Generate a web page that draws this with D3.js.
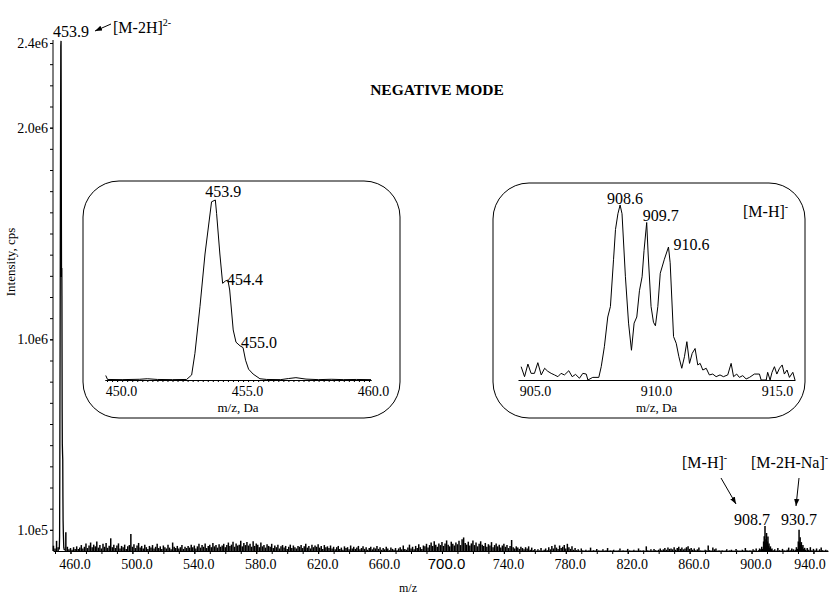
<!DOCTYPE html>
<html>
<head>
<meta charset="utf-8">
<script src="https://cdn.jsdelivr.net/npm/d3@7"></script>
<style>
  body { margin: 0; background: #fff; }
  svg { font-family: "Liberation Serif", "Times New Roman", serif; }
  svg text { font-family: "Liberation Serif", "Times New Roman", serif; fill: #000; }
  svg text.sans { font-family: "Liberation Sans", Arial, sans-serif; }
</style>
</head>
<body>
<svg id="chart" width="829" height="597"></svg>
<script>
// ---------------- data ----------------
// Background of the full scan, one value per 1 Da starting at m/z 449 (kcps)
const noiseStartMz = 449;
const noiseKcps = [
  25, 12, 48, 18, 0, 0, 0, 0, 88, 20,
  8, 14, 6, 18, 10, 22, 9, 16, 28, 12,
  20, 35, 14, 26, 40, 18, 30, 22, 45, 16,
  28, 12, 34, 20, 38, 15, 25, 60, 18, 30,
  14, 26, 36, 12, 24, 18, 30, 10, 22, 28,
  80, 20, 32, 14, 26, 38, 16, 24, 12, 30,
  18, 10, 24, 16, 28, 12, 20, 34, 14, 22,
  10, 26, 18, 12, 30, 16, 8, 40, 20, 14,
  24, 12, 18, 28, 10, 20, 14, 24, 16, 30,
  18, 26, 12, 22, 34, 16, 28, 20, 36, 14,
  24, 30, 18, 38, 22, 28, 16, 32, 20, 26,
  34, 18, 28, 40, 24, 30, 44, 20, 36, 26,
  30, 48, 22, 38, 28, 42, 26, 34, 20, 46,
  24, 36, 30, 18, 40, 22, 28, 16, 32, 24,
  20, 34, 14, 26, 18, 30, 12, 22, 28, 16,
  24, 10, 20, 30, 14, 26, 18, 12, 24, 20,
  28, 14, 22, 34, 16, 24, 12, 30, 18, 26,
  20, 32, 16, 24, 10, 28, 18, 22, 14, 26,
  12, 20, 8, 18, 24, 10, 16, 6, 22, 14,
  18, 8, 26, 12, 20, 10, 16, 24, 8, 14,
  22, 10, 18, 6, 14, 20, 8, 16, 12, 24,
  10, 18, 6, 14, 8, 20, 12, 4, 16, 10,
  6, 14, 4, 12, 18, 8, 26, 10, 6, 16,
  30, 12, 20, 8, 24, 14, 32, 18, 10, 26,
  22, 34, 16, 28, 40, 24, 46, 30, 20, 36,
  28, 42, 24, 36, 50, 30, 22, 44, 34, 26,
  40, 32, 48, 28, 56, 64, 38, 30, 44, 26,
  36, 50, 28, 40, 22, 34, 46, 30, 24, 38,
  20, 32, 26, 42, 18, 28, 36, 22, 30, 16,
  26, 34, 20, 28, 14, 24, 52, 18, 12, 22,
  16, 10, 20, 14, 8, 18, 12, 22, 6, 16,
  4, 10, 2, 8, 3, 14, 2, 6, 12, 4,
  18, 8, 24, 12, 30, 16, 10, 26, 14, 20,
  28, 12, 34, 18, 10, 22, 6, 14, 4, 8,
  2, 12, 3, 2, 6, 2, 3, 16, 2, 4,
  2, 10, 3, 2, 2, 8, 2, 3, 14, 2,
  3, 2, 6, 2, 2, 3, 12, 2, 4, 2,
  2, 10, 3, 2, 2, 6, 2, 2, 12, 3,
  2, 4, 2, 22, 3, 2, 8, 2, 10, 4,
  2, 6, 12, 3, 8, 14, 6, 16, 10, 12,
  8, 18, 6, 14, 20, 10, 16, 8, 12, 18,
  22, 10, 14, 6, 12, 4, 8, 16, 3, 2,
  2, 6, 3, 26, 4, 2, 16, 8, 12, 2,
  3, 2, 4, 2, 2, 8, 2, 3, 6, 2,
  2, 10, 3, 2, 2, 6, 2, 14, 3, 2,
  4, 2, 8, 3, 12, 0, 0, 0, 0, 0,
  0, 0, 0, 0, 0, 3, 8, 2, 14, 4,
  2, 10, 3, 2, 6, 16, 4, 12, 8, 0,
  0, 0, 0, 0, 0, 0, 0, 14, 6, 18,
  4, 10, 3, 12, 2, 8, 16, 4, 2, 6,
  3
];

// [M-2H]2- region, profile in % of the base peak
const lowMz = [449.55, 449.62, 450.2, 450.9, 451.2, 451.6, 452.2, 452.76, 452.96, 453.09,
  453.29, 453.49, 453.75, 453.9, 453.95, 454.08, 454.19, 454.3, 454.4, 454.47,
  454.61, 454.72, 454.88, 455.0, 455.1, 455.22, 455.4, 455.67, 455.94, 456.5,
  456.8, 457.1, 457.5, 458.0, 458.5, 459.0, 459.5, 460.08];
const lowRel = [2.5, 0.3, 0.2, 0.4, 0.7, 0.3, 0.2, 0.3, 2.8, 14.8,
  40.7, 70, 99, 100, 92.6, 70, 53.7, 55, 55.5, 50,
  27.8, 21, 19, 18, 11, 6, 3.3, 0.7, 0.3, 0.2,
  0.8, 1.3, 0.5, 0.2, 0.4, 0.2, 0.3, 0.2];
const basePeakCps = 2.41e6;

// [M-H]- cluster in the full scan (kcps)
const mhMz = [904.5, 905.2, 906.0, 906.6, 907.2, 907.8, 908.2, 908.7, 909.0, 909.3,
  909.7, 910.0, 910.3, 910.6, 910.9, 911.3, 911.7, 912.2, 912.8, 913.2];
const mhKcps = [4, 12, 8, 20, 10, 45, 70, 118, 40, 55,
  85, 30, 45, 68, 25, 35, 15, 22, 8, 12];

// [M-2H-Na]- cluster in the full scan (kcps)
const naMz = [928.2, 929.0, 929.6, 930.2, 930.7, 931.0, 931.4, 931.8, 932.2, 932.7,
  933.2, 933.7, 934.3, 935.0];
const naKcps = [6, 18, 10, 45, 100, 40, 65, 30, 42, 20, 28, 10, 15, 6];

// [M-H]- region, profile in % of its highest point
const hiMz = [904.51, 904.65, 904.79, 904.92, 905.06, 905.20, 905.34, 905.48, 905.61, 905.75,
  905.89, 906.03, 906.16, 906.30, 906.48, 906.62, 906.76, 906.92, 907.06, 907.20,
  907.27, 907.47, 907.72, 907.82, 907.95, 908.09, 908.20, 908.33, 908.41, 908.51,
  908.6, 908.68, 908.82, 908.95, 909.07, 909.18, 909.29, 909.40, 909.51, 909.59,
  909.7, 909.76, 909.88, 909.98, 910.06, 910.16, 910.26, 910.43, 910.6, 910.67,
  910.81, 910.92, 911.03, 911.15, 911.26, 911.36, 911.47, 911.58, 911.70, 911.81,
  911.91, 912.02, 912.16, 912.29, 912.43, 912.57, 912.73, 912.87, 913.05, 913.19,
  913.29, 913.42, 913.53, 913.67, 913.81, 913.95, 914.15, 914.36, 914.43, 914.64,
  914.70, 914.80, 914.88, 914.98, 915.08, 915.19, 915.30, 915.39, 915.50, 915.60,
  915.74, 915.83];
const hiRel = [7.6, 1.9, 9.1, 3.8, 3.8, 9.9, 2.9, 6.7, 5, 3.8,
  2.9, 1.9, 3.8, 2.9, 5.3, 1.9, 3.2, 1, 3.8, 3.4,
  0, 1.5, 1.5, 7.6, 19, 36, 42, 69, 86, 95,
  100, 95, 59, 32.5, 17, 32.5, 36, 51, 59, 74,
  90, 72, 42, 33, 31, 42, 61, 69, 76, 67,
  24.8, 21, 13.3, 6.7, 13.3, 21.9, 9.5, 15.2, 18, 8.6,
  9.5, 5.7, 6.7, 2.9, 3.4, 1.9, 2.9, 1.9, 2.9, 9.5,
  1.9, 3.4, 1.5, 2.5, 0.6, 1.5, 3.4, 3.4, 0, 0,
  4.4, 0, 4.4, 7.6, 3.4, 6.7, 8.6, 3.4, 5.7, 1.5,
  4.4, 0];

// Labelled peaks and tick labels
const mainPeakLabels = [453.9, 908.7, 930.7];
const lowPeakLabels = [453.9, 454.4, 455.0];
const hiPeakLabels = [908.6, 909.7, 910.6];
const mainXTicks = [460, 500, 540, 580, 620, 660, 700, 740, 780, 820, 860, 900, 940];
const mainYTicks = [1e5, 1e6, 2e6, 2.4e6];
const lowXTicks = [450, 455, 460];
const hiXTicks = [905, 910, 915];

// ---------------- drawing ----------------
const svg = d3.select("#chart");
const serif = '"Liberation Serif", "Times New Roman", serif';

const defs = svg.append("defs");
defs.append("marker").attr("id", "head")
  .attr("viewBox", "0 0 8 8").attr("refX", 8).attr("refY", 4)
  .attr("markerWidth", 7).attr("markerHeight", 7)
  .attr("markerUnits", "userSpaceOnUse").attr("orient", "auto")
  .append("path").attr("d", "M0,1 L8,4 L0,7 Z").attr("fill", "#000");

const x = d3.scaleLinear().domain([448.7, 949.4]).range([53, 828]);
const y = d3.scaleLinear().domain([0, 2.4e6]).range([551, 43]);

const inRange = (v, a, b) => v >= a && v <= b;
const covered = mz => inRange(mz, 452.5, 456.5) || inRange(mz, 903.5, 913.5) || inRange(mz, 927.5, 935.5);

// stick spectrum: background plus the two singly charged clusters
const sticks = noiseKcps.map((k, i) => ({ mz: noiseStartMz + i, v: k * 1e3 }))
  .filter(d => !covered(d.mz) && d.v > 0)
  .concat(mhMz.map((m, i) => ({ mz: m, v: mhKcps[i] * 1e3 })))
  .concat(naMz.map((m, i) => ({ mz: m, v: naKcps[i] * 1e3 })));

svg.append("g").selectAll("line").data(sticks).join("line")
  .attr("x1", d => x(d.mz)).attr("x2", d => x(d.mz))
  .attr("y1", y(0)).attr("y2", d => y(d.v))
  .attr("stroke", "#000").attr("stroke-width", 1.5);

// the doubly charged molecular ion as a profile
const ionPts = lowMz.map((m, i) => ({ mz: m, v: lowRel[i] / 100 * basePeakCps }))
  .filter(d => inRange(d.mz, 452.5, 456.5));
svg.append("path").datum(ionPts)
  .attr("fill", "none").attr("stroke", "#000").attr("stroke-width", 1.3)
  .attr("d", d3.line().x(d => x(d.mz)).y(d => y(d.v)));

// axes
const gy = svg.append("g").attr("transform", "translate(53,0)");
gy.call(d3.axisLeft(y).tickValues(d3.range(1, 25).map(i => i * 1e5)).tickSize(3).tickSizeOuter(0).tickFormat(""));
const gyl = svg.append("g").attr("transform", "translate(53,0)");
gyl.call(d3.axisLeft(y).tickValues(mainYTicks).tickSize(3).tickSizeOuter(0).tickPadding(2)
  .tickFormat(d => d.toExponential(1).replace("e+", "e")));
gyl.select(".domain").attr("d", `M0,40V${y(0)}`);
gy.select(".domain").remove();

const gx = svg.append("g").attr("transform", `translate(0,${y(0)})`);
gx.call(d3.axisBottom(x).tickValues(d3.range(450, 950, 10)).tickSize(3).tickSizeOuter(0).tickFormat(""));
const gxl = svg.append("g").attr("transform", `translate(0,${y(0)})`);
gxl.call(d3.axisBottom(x).tickValues(mainXTicks).tickSize(3).tickSizeOuter(0).tickPadding(5)
  .tickFormat(d => d.toFixed(1)));
gx.select(".domain").remove();

svg.selectAll("g").attr("font-family", serif);
svg.selectAll(".tick text").attr("font-family", serif).attr("font-size", 14).attr("fill", "#000");
gxl.selectAll(".tick text").attr("dx", d => d === 940 ? -4 : 4)
  .filter(d => d === 700).classed("sans", true)
  .attr("font-family", '"Liberation Sans", Arial, sans-serif').attr("font-size", 15).attr("dy", "0.66em");
svg.selectAll(".domain, .tick line").attr("stroke", "#000");

// axis titles
svg.append("text").attr("transform", "translate(15,262) rotate(-90)")
  .attr("text-anchor", "middle").attr("font-size", 13).text("Intensity, cps");
svg.append("text").attr("x", 408).attr("y", 592).attr("text-anchor", "middle")
  .attr("font-size", 12).text("m/z");
svg.append("text").attr("x", 437).attr("y", 95).attr("text-anchor", "middle")
  .attr("font-size", 15.5).attr("font-weight", "bold").text("NEGATIVE MODE");

// main peak labels
const mainLabelPos = {
  453.9: { v: basePeakCps, dx: -8, dy: -4, anchor: "start" },
  908.7: { v: mhKcps[mhMz.indexOf(908.7)] * 1e3, dx: 5, dy: -1, anchor: "end" },
  930.7: { v: naKcps[naMz.indexOf(930.7)] * 1e3, dx: 0, dy: -5, anchor: "middle" }
};
mainPeakLabels.forEach(m => {
  const p = mainLabelPos[m];
  svg.append("text").attr("x", x(m) + p.dx).attr("y", y(p.v) + p.dy)
    .attr("text-anchor", p.anchor).attr("font-size", 16).text(m.toFixed(1));
});

// ion annotations with arrows
function ionLabel(tx, ty, base, sup) {
  const t = svg.append("text").attr("x", tx).attr("y", ty).attr("font-size", 16);
  t.append("tspan").text(base);
  t.append("tspan").attr("font-size", 10).attr("dy", -7).text(sup);
  return t;
}
function arrow(x1, y1, x2, y2) {
  svg.append("line").attr("x1", x1).attr("y1", y1).attr("x2", x2).attr("y2", y2)
    .attr("stroke", "#000").attr("stroke-width", 1).attr("marker-end", "url(#head)");
}
ionLabel(113, 33, "[M-2H]", "2-");
arrow(111, 24, 95, 31);
ionLabel(682, 468, "[M-H]", "-");
arrow(721, 478, 736, 504);
ionLabel(751, 468, "[M-2H-Na]", "-");
arrow(799, 478, 796, 506);

// ---------------- zoomed views ----------------
function zoomPanel(cfg) {
  const g = svg.append("g");
  g.append("rect").attr("x", cfg.box[0]).attr("y", cfg.box[1])
    .attr("width", cfg.box[2]).attr("height", cfg.box[3])
    .attr("rx", 36).attr("ry", 36)
    .attr("fill", "#fff").attr("stroke", "#000").attr("stroke-width", 1);

  const zx = d3.scaleLinear().domain(cfg.domain).range(cfg.range);
  const zy = d3.scaleLinear().domain([0, 100]).range([380, cfg.top]);

  if (cfg.minorStep) {
    const ticks = d3.range(Math.ceil(cfg.domain[0] / cfg.minorStep), Math.floor(cfg.domain[1] / cfg.minorStep) + 1)
      .map(i => i * cfg.minorStep);
    g.append("g").attr("transform", "translate(0,380)")
      .call(d3.axisBottom(zx).tickValues(ticks).tickSize(2).tickSizeOuter(0).tickFormat(""));
  }
  const ax = g.append("g").attr("transform", "translate(0,380)")
    .call(d3.axisBottom(zx).tickValues(cfg.ticks).tickSize(cfg.minorStep ? 2 : 0).tickSizeOuter(0).tickPadding(cfg.minorStep ? 4 : 6)
      .tickFormat(d => d.toFixed(1)));
  ax.attr("font-family", serif);
  ax.selectAll("text").attr("font-family", serif).attr("font-size", 14).attr("fill", "#000").attr("dx", cfg.tickDx);
  g.selectAll(".domain, .tick line").attr("stroke", "#000");

  g.append("text").attr("x", (cfg.range[0] + cfg.range[1]) / 2).attr("y", 412)
    .attr("text-anchor", "middle").attr("font-size", 13).text("m/z, Da");

  const pts = cfg.mz.map((m, i) => ({ mz: m, v: cfg.rel[i] }));
  g.append("path").datum(pts)
    .attr("fill", "none").attr("stroke", "#000").attr("stroke-width", 1)
    .attr("d", d3.line().x(d => zx(d.mz)).y(d => zy(d.v)));

  cfg.labels.forEach((m, i) => {
    const v = cfg.rel[cfg.mz.indexOf(m)];
    g.append("text").attr("x", zx(m) + cfg.labelOffsets[i][0]).attr("y", zy(v) + cfg.labelOffsets[i][1])
      .attr("font-size", 16).text(m.toFixed(1));
  });
  return g;
}

zoomPanel({
  box: [83, 181, 317, 237],
  domain: [449.52, 460.08], range: [105, 371], top: 200,
  ticks: lowXTicks, minorStep: 0.2, tickDx: 4,
  mz: lowMz, rel: lowRel,
  labels: lowPeakLabels, labelOffsets: [[-10, -3], [-1, 5], [-2, 0]]
});

const hiPanel = zoomPanel({
  box: [493, 183, 312, 235],
  domain: [904.38, 915.83], range: [518, 795], top: 205,
  ticks: hiXTicks, minorStep: 0, tickDx: 2,
  mz: hiMz, rel: hiRel,
  labels: hiPeakLabels, labelOffsets: [[-13, -1], [-4, -2], [5, 3]]
});
const mh = hiPanel.append("text").attr("x", 743).attr("y", 217).attr("font-size", 16);
mh.append("tspan").text("[M-H]");
mh.append("tspan").attr("font-size", 10).attr("dy", -7).text("-");
</script>
</body>
</html>
